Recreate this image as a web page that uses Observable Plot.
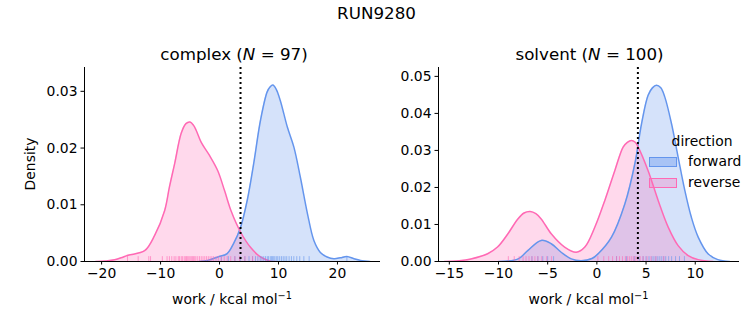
<!DOCTYPE html>
<html>
<head>
<meta charset="utf-8">
<script src="https://cdn.jsdelivr.net/npm/d3@7"></script>
<script src="https://cdn.jsdelivr.net/npm/@observablehq/plot@0.6"></script>
<style>
  html, body { margin: 0; padding: 0; background: #fff; }
  #fig { position: relative; width: 753px; height: 325px; font-family: "DejaVu Sans", sans-serif; color: #000; overflow: hidden; }
  .t { position: absolute; white-space: nowrap; transform: translate(-50%, -50%); line-height: 1; }
  .panel { position: absolute; top: 0; }
  .sw { position: absolute; width: 26px; height: 8px; }
</style>
</head>
<body>
<div id="fig"></div>
<script>
// ---------- data ----------
const suptitle = "RUN9280";
const directions = ["forward", "reverse"];
const dirColors = ["#6495ED", "#FF69B4"];

// KDE curves: [work, density]
const complexForwardKDE = [[-3.5,0],[-2,0.0002],[-0.3,0.0008],[1.3,0.0014],[2.4,0.0032],[3.56,0.006],[4.7,0.0108],[5.8,0.0173],[6.95,0.0249],[8.08,0.0299],[8.6,0.0308],[9.04,0.0311],[9.6,0.0304],[10.3,0.0284],[11.5,0.0237],[12.6,0.0202],[13.7,0.0149],[14.9,0.0085],[16.0,0.0037],[17.1,0.0016],[18.25,0.0008],[19.4,0.0005],[20.5,0.00065],[21.6,0.0009],[22.8,0.0005],[23.9,0.0002],[25.5,0]];
const complexReverseKDE = [[-21,0],[-19.3,0.0001],[-17.8,0.0003],[-16.7,0.00065],[-15.5,0.0011],[-12.7,0.0019],[-11.0,0.0046],[-9.3,0.009],[-8.5,0.0131],[-7.6,0.0173],[-6.5,0.0226],[-5.7,0.0243],[-5.0,0.0246],[-4.4,0.0240],[-3.95,0.0231],[-3.1,0.021],[-1.7,0.0187],[-0.3,0.016],[0.85,0.0125],[2.0,0.0088],[3.56,0.0052],[5.25,0.0025],[6.95,0.0008],[8.5,0.0001],[9.5,0]];
const solventForwardKDE = [[-10,0],[-8.0,0.0007],[-7.0,0.003],[-5.66,0.0057],[-4.64,0.0048],[-3.63,0.0025],[-2.6,0.0007],[-1.6,0.0002],[-0.5,0.0008],[0.13,0.0021],[1.49,0.0066],[2.85,0.0156],[3.86,0.0264],[4.54,0.0372],[5.21,0.0449],[5.65,0.0469],[6.06,0.0476],[6.5,0.0469],[6.91,0.0444],[7.59,0.0372],[8.26,0.0282],[8.94,0.0192],[9.6,0.012],[10.3,0.0066],[11.3,0.0021],[12.3,0.0005],[13.5,0]];
const solventReverseKDE = [[-15.5,0],[-14,0.0002],[-12.8,0.0007],[-11.1,0.0021],[-10.1,0.0039],[-9.04,0.0075],[-8.03,0.0115],[-7.4,0.0131],[-6.78,0.0135],[-6.2,0.0129],[-5.66,0.0115],[-4.64,0.0075],[-3.28,0.0039],[-2.1,0.0025],[-1.22,0.0039],[-0.2,0.0093],[0.81,0.0165],[1.83,0.0246],[2.67,0.0309],[3.1,0.0322],[3.52,0.0327],[3.9,0.0322],[4.2,0.0309],[5.2,0.0246],[6.23,0.0165],[7.25,0.0093],[8.26,0.0043],[9.28,0.0016],[10.3,0.0005],[11.8,0]];

// rug samples (work values)
const complexForwardRug = [0.3,1.5,2.6,3.5,4.3,5.0,5.6,6.1,6.5,6.9,7.2,7.5,7.8,8.1,8.3,8.6,8.8,9.0,9.2,9.4,9.7,9.9,10.2,10.5,10.8,11.1,11.4,11.8,12.2,12.6,13.1,13.6,14.3,15.2,21.6];
const complexReverseRug = [-15.6,-13.8,-12.0,-11.7,-9.7,-8.9,-8.5,-8.1,-7.7,-7.4,-7.0,-6.8,-6.5,-6.3,-6.0,-5.8,-5.6,-5.4,-5.2,-5.0,-4.8,-4.6,-4.4,-4.2,-4.0,-3.7,-3.4,-3.1,-2.8,-2.5,-2.2,-1.9,-1.6,-1.3,-1.0,-0.6,-0.2,0.3,0.8,1.3,1.9,2.6,3.4,4.3,5.6];
const solventForwardRug = [-6.6,-6.0,-5.5,-5.0,-4.4,2.0,3.0,3.8,4.3,4.7,5.0,5.3,5.6,5.8,6.0,6.2,6.4,6.6,6.8,7.0,7.3,7.6,8.0,8.4,8.9];
const solventReverseRug = [-9.0,-8.4,-7.9,-7.5,-7.2,-6.9,-6.6,-6.3,-6.0,-5.6,-5.1,-4.6,0.1,0.7,1.2,1.6,2.0,2.3,2.6,2.9,3.1,3.3,3.5,3.7,3.9,4.1,4.4,4.7,5.1,5.5,6.0,6.8];

// dotted reference lines
const complexMarker = 3.56;
const solventMarker = 4.17;

// axes
const complexXTicks = [-20, -10, 0, 10, 20];
const complexYTicks = [0, 0.01, 0.02, 0.03];
const solventXTicks = [-15, -10, -5, 0, 5, 10];
const solventYTicks = [0, 0.01, 0.02, 0.03, 0.04, 0.05];
const panelNames = ["complex", "solvent"];
const panelN = [97, 100];
const xLabel = "work / kcal mol";
const yLabel = "Density";

// ---------- drawing ----------
const fig = document.getElementById("fig");
const FS = "13.9px";

function panel({fwd, rev, fwdRug, revRug, marker, xDomain, yDomain, xTicks, yTicks, left, width, marginLeft, marginRight}) {
  const X = d => d[0], Y = d => d[1];
  const curve = "catmull-rom";
  const rugTop = yDomain[1] * 0.025;
  const p = Plot.plot({
    width, height: 325,
    marginLeft, marginRight, marginTop: 67, marginBottom: 64,
    style: {fontFamily: "DejaVu Sans", fontSize: FS, color: "#000", background: "transparent", overflow: "visible"},
    x: {domain: xDomain, ticks: xTicks, tickSize: 3.5, tickPadding: 3.5, label: null, tickFormat: d3.format("d")},
    y: {domain: yDomain, ticks: yTicks, tickSize: 3.5, tickPadding: 3.5, label: null, tickFormat: d3.format(".2f")},
    marks: [
      Plot.areaY(fwd, {x: X, y: Y, fill: dirColors[0], fillOpacity: 0.27, curve, clip: true}),
      Plot.areaY(rev, {x: X, y: Y, fill: dirColors[1], fillOpacity: 0.25, curve, clip: true}),
      Plot.lineY(fwd, {x: X, y: Y, stroke: dirColors[0], strokeWidth: 1.5, curve, clip: true}),
      Plot.lineY(rev, {x: X, y: Y, stroke: dirColors[1], strokeWidth: 1.5, curve, clip: true}),
      Plot.ruleX(fwdRug, {x: d => d, y1: 0, y2: rugTop, stroke: dirColors[0], strokeOpacity: 0.6, strokeWidth: 1}),
      Plot.ruleX(revRug, {x: d => d, y1: 0, y2: rugTop, stroke: dirColors[1], strokeOpacity: 0.6, strokeWidth: 1}),
      Plot.ruleX([marker], {stroke: "#000", strokeWidth: 2, strokeDasharray: "2,3"}),
      Plot.ruleY([0], {stroke: "#000", strokeWidth: 1}),
      Plot.ruleX([xDomain[0]], {stroke: "#000", strokeWidth: 1})
    ]
  });
  p.classList.add("panel");
  p.style.left = left + "px";
  fig.appendChild(p);
}

panel({fwd: complexForwardKDE, rev: complexReverseKDE, fwdRug: complexForwardRug, revRug: complexReverseRug,
  marker: complexMarker, xDomain: [-22.9, 27.3], yDomain: [0, 0.0342], xTicks: complexXTicks, yTicks: complexYTicks,
  left: 0, width: 390, marginLeft: 84, marginRight: 10});
panel({fwd: solventForwardKDE, rev: solventReverseKDE, fwdRug: solventForwardRug, revRug: solventReverseRug,
  marker: solventMarker, xDomain: [-16.1, 14.5], yDomain: [0, 0.0524], xTicks: solventXTicks, yTicks: solventYTicks,
  left: 390, width: 363, marginLeft: 48, marginRight: 14});

function text(html, x, y, size, extra) {
  const d = document.createElement("div");
  d.className = "t";
  d.innerHTML = html;
  d.style.left = x + "px";
  d.style.top = y + "px";
  d.style.fontSize = size;
  if (extra) Object.assign(d.style, extra);
  fig.appendChild(d);
  return d;
}

text(suptitle, 376.5, 13, "16.7px");
text(`${panelNames[0]} (<i>N</i> = ${panelN[0]})`, 234, 54, "16.7px");
text(`${panelNames[1]} (<i>N</i> = ${panelN[1]})`, 589.5, 54, "16.7px");
text(`${xLabel}<sup style="font-size:0.7em;vertical-align:0.5em">−1</sup>`, 232, 299, FS);
text(`${xLabel}<sup style="font-size:0.7em;vertical-align:0.5em">−1</sup>`, 588.5, 299, FS);
text(yLabel, 31, 164, FS, {transform: "translate(-50%, -50%) rotate(-90deg)"});

// legend
text("direction", 702, 142, FS);
const swY = [157, 178];
directions.forEach((name, i) => {
  const s = document.createElement("div");
  s.className = "sw";
  s.style.left = "649px";
  s.style.top = swY[i] + "px";
  s.style.border = `1.3px solid ${dirColors[i]}`;
  s.style.background = i === 0 ? "rgba(100,149,237,0.4)" : "rgba(255,105,180,0.28)";
  fig.appendChild(s);
  text(name, 688, swY[i] + 5, FS, {transform: "translate(0, -50%)"});
});
</script>
</body>
</html>
